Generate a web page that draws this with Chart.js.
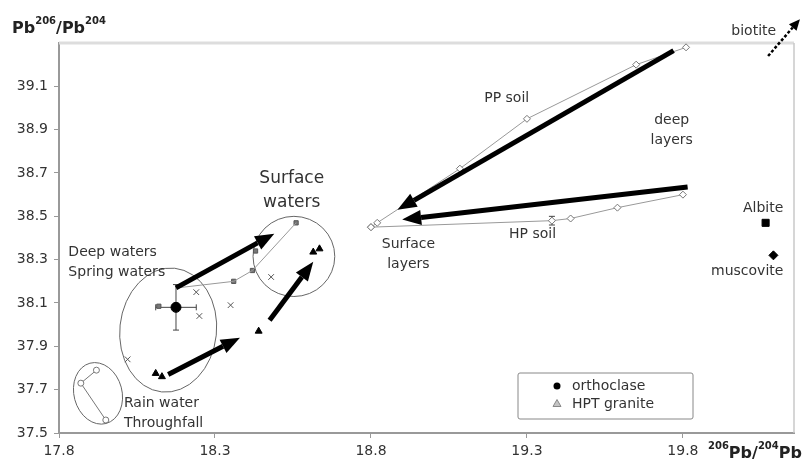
<!DOCTYPE html>
<html>
<head>
<meta charset="utf-8">
<script src="https://cdn.jsdelivr.net/npm/chart.js@4.4.1/dist/chart.umd.min.js"></script>
<style>
  html, body { margin: 0; padding: 0; background: #fff; }
  #wrap { width: 810px; height: 461px; }
</style>
</head>
<body>
<div id="wrap"><canvas id="chart" width="810" height="461"></canvas></div>
<script>
// axis ticks
const xTicks = [17.8, 18.3, 18.8, 19.3, 19.8];
const yTicks = [37.5, 37.7, 37.9, 38.1, 38.3, 38.5, 38.7, 38.9, 39.1];

// series, [206Pb/204Pb, 208Pb/204Pb]
const ppSoil = [[18.80, 38.45], [18.82, 38.47], [19.085, 38.72], [19.30, 38.95], [19.65, 39.20], [19.81, 39.28]];
const hpSoil = [[18.80, 38.45], [19.38, 38.48], [19.44, 38.49], [19.59, 38.54], [19.80, 38.60]];
const waterLine = [[18.18, 38.17], [18.36, 38.20], [18.42, 38.25], [18.56, 38.47]];
const waterSquares = [[18.12, 38.085], [18.36, 38.20], [18.42, 38.25], [18.43, 38.34], [18.56, 38.47]];
const waterCrosses = [[18.24, 38.15], [18.25, 38.04], [18.35, 38.09], [18.48, 38.22], [18.02, 37.84]];
const hptGranite = [[18.11, 37.775], [18.13, 37.76], [18.44, 37.97], [18.615, 38.335], [18.635, 38.35]];
const rainWater = [[17.92, 37.79], [17.87, 37.73], [17.95, 37.56]];
const orthoclase = [[18.175, 38.08]];
const albite = [[20.065, 38.47]];
const muscovite = [[20.09, 38.32]];

// error bars: x, y, xErr, yErr
const errorBars = [[18.175, 38.08, 0.065, 0.105], [19.38, 38.48, 0, 0.02]];

// arrows: x1, y1, x2, y2
const arrows = [
  [19.77, 39.265, 18.885, 38.53],
  [19.815, 38.635, 18.90, 38.485],
  [18.175, 38.17, 18.49, 38.42],
  [18.15, 37.77, 18.38, 37.94],
  [18.475, 38.02, 18.615, 38.29]
];
const biotiteArrow = [20.073, 39.24, 20.175, 39.41];

// ellipses: cx, cy, rx, ry (data units), rotation (deg)
const ellipses = [
  [17.925, 37.683, 0.077, 0.144, -15],
  [18.15, 37.975, 0.155, 0.287, 6],
  [18.553, 38.315, 0.131, 0.185, 0]
];

// annotations: text lines, x, y, size, align
const notes = [
  [['biotite'], 20.027, 39.354, 14, 'center'],
  [['deep', 'layers'], 19.764, 38.898, 14, 'center'],
  [['Albite'], 20.057, 38.539, 14, 'center'],
  [['muscovite'], 20.006, 38.245, 14, 'center'],
  [['PP soil'], 19.235, 39.045, 14, 'center'],
  [['HP soil'], 19.318, 38.415, 14, 'center'],
  [['Surface', 'layers'], 18.92, 38.323, 14, 'center'],
  [['Surface', 'waters'], 18.546, 38.619, 17, 'center'],
  [['Deep waters', 'Spring waters'], 17.83, 38.288, 14, 'left'],
  [['Rain water', 'Throughfall'], 18.008, 37.59, 14, 'left']
];

const FONT = 'DejaVu Sans';
const TXT = '#333';
const pts = arr => arr.map(p => ({ x: p[0], y: p[1] }));

function drawArrow(ctx, x1, y1, x2, y2, w, head, half, dash) {
  const a = Math.atan2(y2 - y1, x2 - x1);
  const bx = x2 - head * Math.cos(a), by = y2 - head * Math.sin(a);
  ctx.save();
  ctx.strokeStyle = '#000';
  ctx.fillStyle = '#000';
  ctx.lineWidth = w;
  ctx.setLineDash(dash || []);
  ctx.beginPath();
  ctx.moveTo(x1, y1);
  ctx.lineTo(bx, by);
  ctx.stroke();
  ctx.setLineDash([]);
  ctx.beginPath();
  ctx.moveTo(x2, y2);
  ctx.lineTo(bx - half * Math.sin(a), by + half * Math.cos(a));
  ctx.lineTo(bx + half * Math.sin(a), by - half * Math.cos(a));
  ctx.closePath();
  ctx.fill();
  ctx.restore();
}

// superscript titles like 206Pb/204Pb
function drawParts(ctx, parts, x, y) {
  ctx.textAlign = 'left';
  ctx.textBaseline = 'alphabetic';
  parts.forEach(p => {
    ctx.font = p.sup ? 'bold 10px ' + FONT : 'bold 16px ' + FONT;
    ctx.fillText(p.t, x, p.sup ? y - 9 : y);
    x += ctx.measureText(p.t).width;
  });
}

const extras = {
  id: 'extras',
  beforeDatasetsDraw(chart) {
    const { ctx, chartArea: ca } = chart;
    const sx = chart.scales.x, sy = chart.scales.y;
    ctx.save();
    // light frame top and right
    ctx.strokeStyle = '#ddd';
    ctx.lineWidth = 3;
    ctx.beginPath();
    ctx.moveTo(ca.left, ca.top);
    ctx.lineTo(ca.right, ca.top);
    ctx.stroke();
    ctx.strokeStyle = '#c8c8c8';
    ctx.lineWidth = 1.5;
    ctx.beginPath();
    ctx.moveTo(ca.right, ca.top);
    ctx.lineTo(ca.right, ca.bottom);
    ctx.stroke();

    // ellipses
    ctx.strokeStyle = '#666';
    ctx.lineWidth = 1;
    ellipses.forEach(e => {
      const cx = sx.getPixelForValue(e[0]), cy = sy.getPixelForValue(e[1]);
      const rx = Math.abs(sx.getPixelForValue(e[0] + e[2]) - cx);
      const ry = Math.abs(sy.getPixelForValue(e[1] + e[3]) - cy);
      ctx.beginPath();
      ctx.ellipse(cx, cy, rx, ry, e[4] * Math.PI / 180, 0, Math.PI * 2);
      ctx.stroke();
    });

    // error bars
    ctx.strokeStyle = '#444';
    ctx.lineWidth = 1;
    errorBars.forEach(b => {
      const cx = sx.getPixelForValue(b[0]), cy = sy.getPixelForValue(b[1]);
      const x0 = sx.getPixelForValue(b[0] - b[2]), x1 = sx.getPixelForValue(b[0] + b[2]);
      const y0 = sy.getPixelForValue(b[1] - b[3]), y1 = sy.getPixelForValue(b[1] + b[3]);
      ctx.beginPath();
      ctx.moveTo(x0, cy); ctx.lineTo(x1, cy);
      ctx.moveTo(cx, y0); ctx.lineTo(cx, y1);
      if (b[2] > 0) {
        ctx.moveTo(x0, cy - 3); ctx.lineTo(x0, cy + 3);
        ctx.moveTo(x1, cy - 3); ctx.lineTo(x1, cy + 3);
      }
      ctx.moveTo(cx - 3, y0); ctx.lineTo(cx + 3, y0);
      ctx.moveTo(cx - 3, y1); ctx.lineTo(cx + 3, y1);
      ctx.stroke();
    });
    ctx.restore();
  },
  afterDraw(chart) {
    const { ctx } = chart;
    const sx = chart.scales.x, sy = chart.scales.y;
    const P = (x, y) => [sx.getPixelForValue(x), sy.getPixelForValue(y)];

    arrows.forEach(a => {
      const [x1, y1] = P(a[0], a[1]);
      const [x2, y2] = P(a[2], a[3]);
      drawArrow(ctx, x1, y1, x2, y2, 5, 19, 7.5);
    });
    {
      const [x1, y1] = P(biotiteArrow[0], biotiteArrow[1]);
      const [x2, y2] = P(biotiteArrow[2], biotiteArrow[3]);
      drawArrow(ctx, x1, y1, x2, y2, 2.5, 11, 5, [3, 2]);
    }

    ctx.save();
    ctx.fillStyle = TXT;
    notes.forEach(n => {
      const [x, y] = P(n[1], n[2]);
      const lh = n[3] * 1.45;
      ctx.font = n[3] + 'px ' + FONT;
      ctx.textAlign = n[4];
      ctx.textBaseline = 'middle';
      n[0].forEach((t, i) => {
        ctx.fillText(t, x, y + (i - (n[0].length - 1) / 2) * lh);
      });
    });

    // legend box
    const lx = 518, ly = 373, lw = 175, lh = 46;
    ctx.strokeStyle = '#888';
    ctx.lineWidth = 1;
    ctx.beginPath();
    ctx.roundRect(lx, ly, lw, lh, 2);
    ctx.stroke();
    ctx.fillStyle = '#000';
    ctx.beginPath();
    ctx.arc(557, 386, 3.5, 0, Math.PI * 2);
    ctx.fill();
    ctx.fillStyle = '#c4c4c4';
    ctx.strokeStyle = '#888';
    ctx.beginPath();
    ctx.moveTo(557, 399.5); ctx.lineTo(561, 406.5); ctx.lineTo(553, 406.5);
    ctx.closePath();
    ctx.fill(); ctx.stroke();
    ctx.fillStyle = TXT;
    ctx.font = '14px ' + FONT;
    ctx.textAlign = 'left';
    ctx.textBaseline = 'middle';
    ctx.fillText('orthoclase', 572, 386);
    ctx.fillText('HPT granite', 572, 404);

    // axis titles
    ctx.fillStyle = '#222';
    drawParts(ctx, [{ t: 'Pb' }, { t: '206', sup: true }, { t: '/Pb' }, { t: '204', sup: true }], 12, 33);
    drawParts(ctx, [{ t: '206', sup: true }, { t: 'Pb/' }, { t: '204', sup: true }, { t: 'Pb' }], 708, 458);
    ctx.restore();
  }
};

new Chart(document.getElementById('chart'), {
  type: 'scatter',
  data: {
    datasets: [
      { data: pts(ppSoil), showLine: true, borderColor: '#999', borderWidth: 1,
        pointStyle: 'rectRot', pointRadius: 3.5, pointBackgroundColor: '#fff', pointBorderColor: '#777' },
      { data: pts(hpSoil), showLine: true, borderColor: '#999', borderWidth: 1,
        pointStyle: 'rectRot', pointRadius: 3.5, pointBackgroundColor: '#fff', pointBorderColor: '#777' },
      { data: pts(waterLine), showLine: true, borderColor: '#999', borderWidth: 1, pointRadius: 0 },
      { data: pts(waterSquares), pointStyle: 'rect', pointRadius: 3, pointBackgroundColor: '#777', pointBorderColor: '#555' },
      { data: pts(waterCrosses), pointStyle: 'crossRot', pointRadius: 4, pointBorderColor: '#555', pointBorderWidth: 1 },
      { data: pts(rainWater), showLine: true, borderColor: '#777', borderWidth: 1,
        pointStyle: 'circle', pointRadius: 3, pointBackgroundColor: '#fff', pointBorderColor: '#777' },
      { data: pts(hptGranite), pointStyle: 'triangle', pointRadius: 4, pointBackgroundColor: '#000', pointBorderColor: '#000' },
      { data: pts(orthoclase), pointStyle: 'circle', pointRadius: 5, pointBackgroundColor: '#000', pointBorderColor: '#000' },
      { data: pts(albite), pointStyle: 'rect', pointRadius: 5, pointBackgroundColor: '#000', pointBorderColor: '#000' },
      { data: pts(muscovite), pointStyle: 'rectRot', pointRadius: 4.5, pointBackgroundColor: '#000', pointBorderColor: '#000' }
    ]
  },
  options: {
    responsive: false,
    animation: false,
    devicePixelRatio: 1,
    layout: { padding: { top: 43, right: 16, left: 0, bottom: 0 } },
    plugins: { legend: { display: false }, tooltip: { enabled: false } },
    scales: {
      x: {
        type: 'linear', min: 17.8, max: 20.156,
        afterBuildTicks: s => { s.ticks = xTicks.map(v => ({ value: v })); },
        afterFit: s => { s.height = 28; },
        ticks: { callback: v => v.toFixed(1), color: TXT, font: { family: FONT, size: 14 }, padding: 5, maxRotation: 0 },
        grid: { drawOnChartArea: false, drawTicks: true, tickLength: 5, color: '#999' },
        border: { color: '#999', width: 2 }
      },
      y: {
        type: 'linear', min: 37.5, max: 39.3,
        afterBuildTicks: s => { s.ticks = yTicks.map(v => ({ value: v })); },
        afterFit: s => { s.width = 59; },
        ticks: { callback: v => v.toFixed(1), color: TXT, font: { family: FONT, size: 14 }, padding: 6 },
        grid: { drawOnChartArea: false, drawTicks: true, tickLength: 5, color: '#999' },
        border: { color: '#999', width: 2 }
      }
    }
  },
  plugins: [extras]
});
</script>
</body>
</html>
